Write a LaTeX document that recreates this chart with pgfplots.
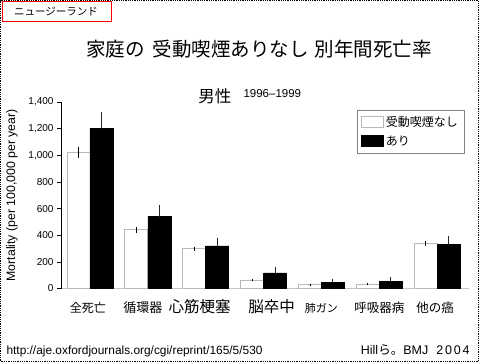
\documentclass[border=0pt]{standalone}
\usepackage{pgfplots}
\pgfplotsset{compat=1.18}
\usepackage{fontspec}
\setmainfont{Liberation Sans}
\newfontfamily\jp{Noto Sans CJK JP}
\begin{document}
\begin{tikzpicture}
\useasboundingbox (0pt,0pt) rectangle (481pt,362pt);
\draw[black, densely dotted, line width=0.8pt] (0.8pt,0.8pt) rectangle (478.5pt,361.2pt);
\draw[red, line width=0.9pt] (2pt,361pt) rectangle (111pt,341pt);
\node[anchor=center] at (56pt,350.5pt) {\jp\fontsize{10.5}{12}\selectfont ニュージーランド};
\node[anchor=center] at (259pt,313pt) {\jp\fontsize{19.5}{22}\selectfont 家庭の\hspace{8pt}受動喫煙ありなし\hspace{6pt}別年間死亡率};
\node[anchor=base east] at (235pt,259pt) {\jp\fontsize{16.5}{18}\selectfont 男性};
\node[anchor=base west] at (240pt,264pt) {\fontsize{11.5}{13}\selectfont 1996--1999};
\node[anchor=base west] at (3pt,8pt) {\fontsize{11.9}{13}\selectfont http://aje.oxfordjournals.org/cgi/reprint/165/5/530};
\node[anchor=base east] at (473pt,8pt) {\fontsize{12.5}{14}\selectfont Hill{\jp ら。}BMJ\hspace{8pt}2\hspace{1.8pt}0\hspace{1.8pt}0\hspace{1.8pt}4};
\begin{axis}[
  at={(61pt,73.5pt)}, anchor=south west,
  scale only axis, width=408pt, height=186.5pt,
  ybar=0pt, bar width=23pt,
  xmin=-0.5, xmax=6.55, ymin=0, ymax=1400,
  axis lines=left,
  axis line style={-},
  x axis line style={gray!45, line width=1.6pt},
  y axis line style={black, line width=0.6pt},
  xtick={0,1,2,3,4,5,6},
  xticklabels={
    {\hspace*{-4pt}\jp\fontsize{12}{12}\selectfont 全死亡},
    {\hspace*{-10pt}\jp\fontsize{13}{13}\selectfont 循環器},
    {\hspace*{-12pt}\jp\fontsize{15.5}{16}\selectfont 心筋梗塞},
    {\hspace*{16pt}\jp\fontsize{15.5}{16}\selectfont 脳卒中},
    {\jp\fontsize{11}{11}\selectfont 肺ガン},
    {\jp\fontsize{12.5}{12.5}\selectfont 呼吸器病},
    {\hspace*{-4pt}\jp\fontsize{12.5}{12.5}\selectfont 他の癌}},
  x tick style={draw=none},
  xticklabel style={anchor=base, yshift=-20pt},
  ytick={0,200,...,1400},
  y tick style={black, line width=0.6pt},
  tick align=outside, major tick length=4pt,
  scaled y ticks=false,
  /pgf/number format/assume math mode=true,
  /pgf/number format/1000 sep={,},
  yticklabel style={font=\fontsize{10}{12}\selectfont},
  ylabel={Mortality (per 100,000 per year)},
  ylabel style={at={(axis description cs:-0.12,0.5)}, anchor=center, font=\fontsize{12.3}{14}\selectfont},
  legend style={at={(0.725,0.957)}, anchor=north west, draw=gray, line width=0.5pt,
    font=\jp\fontsize{12}{14}\selectfont, row sep=4pt, inner sep=4pt},
  legend cell align=left,
  legend image code/.code={\draw[#1] (0pt,-5pt) rectangle (22pt,6pt);},
  clip=false,
]
\addplot[fill=white, draw=gray!55, line width=0.8pt,
  error bars/.cd, y dir=both, y explicit, error mark=none,
  error bar style={black, line width=0.8pt}]
  coordinates {(0,1020) +- (0,40) (1,440) +- (0,20) (2,300) +- (0,15) (3,62) +- (0,8) (4,28) +- (0,5) (5,33) +- (0,5) (6,340) +- (0,20)};
\addlegendentry{受動喫煙なし}
\addplot[fill=black, draw=black, line width=0.6pt,
  error bars/.cd, y dir=plus, y explicit, error mark=none,
  error bar style={black!85, line width=0.9pt}]
  coordinates {(0,1200) +- (0,123) (1,540) +- (0,85) (2,320) +- (0,62) (3,117) +- (0,47) (4,47) +- (0,24) (5,56) +- (0,28) (6,330) +- (0,65)};
\addlegendentry{あり}
\end{axis}
\end{tikzpicture}
\end{document}
